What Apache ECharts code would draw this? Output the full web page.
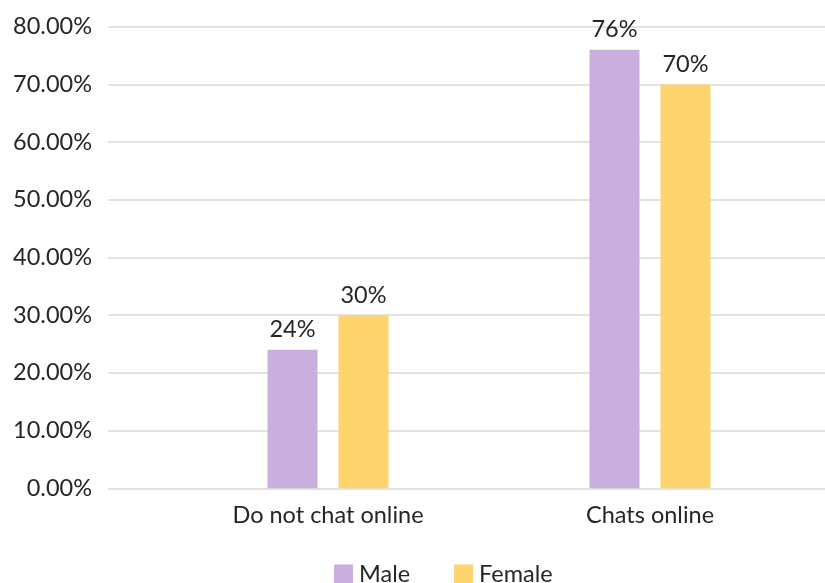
<!DOCTYPE html>
<html>
<head>
<meta charset="utf-8">
<script src="https://cdn.jsdelivr.net/npm/echarts@6/dist/echarts.min.js"></script>
<style>
  html, body { margin: 0; padding: 0; background: #fff; }
  #chart { width: 825px; height: 583px; }
</style>
</head>
<body>
<div id="chart"></div>
<script>
// Share of respondents who chat online, by gender (percent)
const categories = ['Do not chat online', 'Chats online'];
const seriesNames = ['Male', 'Female'];
const maleValues = [24, 76];
const femaleValues = [30, 70];
const yTicks = [0, 10, 20, 30, 40, 50, 60, 70, 80];

const font = 'Lato, "Noto Sans", sans-serif';
const fontSize = 23.5;
const textColor = '#262626';
const gridColor = '#d9d9d9';

const chart = echarts.init(document.getElementById('chart'), null, { renderer: 'canvas' });

const plotTop = 26.7;
const plotBottom = 94.7;

const barLabel = {
  show: true,
  position: 'top',
  distance: 8,
  fontSize: fontSize,
  color: textColor,
  fontFamily: font,
  formatter: p => p.value + '%'
};

chart.setOption({
  animation: false,
  backgroundColor: '#ffffff',
  textStyle: { fontFamily: font },
  grid: [
    // full-width grid carrying the value axis and its gridlines
    { left: 108, right: 0, top: plotTop, bottom: plotBottom },
    // inner grid carrying the bars and category labels
    { left: 167, right: 14, top: plotTop, bottom: plotBottom }
  ],
  legend: {
    data: seriesNames,
    bottom: -3,
    left: 334,
    padding: 0,
    icon: 'rect',
    itemWidth: 19,
    itemHeight: 19,
    itemGap: 44,
    textStyle: { fontSize: fontSize, color: textColor, fontFamily: font, padding: [2, 0, 0, 1] }
  },
  xAxis: [
    { gridIndex: 0, type: 'category', data: [], show: false },
    {
      gridIndex: 1,
      type: 'category',
      data: categories,
      axisLine: { show: false },
      axisTick: { show: false },
      axisLabel: { fontSize: fontSize, color: textColor, margin: 15, fontFamily: font }
    }
  ],
  yAxis: [
    {
      gridIndex: 0,
      type: 'value',
      min: yTicks[0],
      max: yTicks[yTicks.length - 1],
      interval: yTicks[1] - yTicks[0],
      axisLine: { show: false },
      axisTick: { show: false },
      axisLabel: {
        fontSize: fontSize,
        color: textColor,
        margin: 16,
        fontFamily: font,
        formatter: v => v.toFixed(2) + '%'
      },
      splitLine: { lineStyle: { color: gridColor, width: 1.5 } }
    },
    {
      gridIndex: 1,
      type: 'value',
      min: yTicks[0],
      max: yTicks[yTicks.length - 1],
      show: false,
      splitLine: { show: false }
    }
  ],
  series: [
    {
      name: seriesNames[0],
      type: 'bar',
      xAxisIndex: 1,
      yAxisIndex: 1,
      data: maleValues,
      barWidth: 50,
      barGap: '42%',
      itemStyle: { color: '#c9afdd' },
      label: barLabel
    },
    {
      name: seriesNames[1],
      type: 'bar',
      xAxisIndex: 1,
      yAxisIndex: 1,
      data: femaleValues,
      barWidth: 50,
      barGap: '42%',
      itemStyle: { color: '#fed46f' },
      label: barLabel
    }
  ]
});
</script>
</body>
</html>
